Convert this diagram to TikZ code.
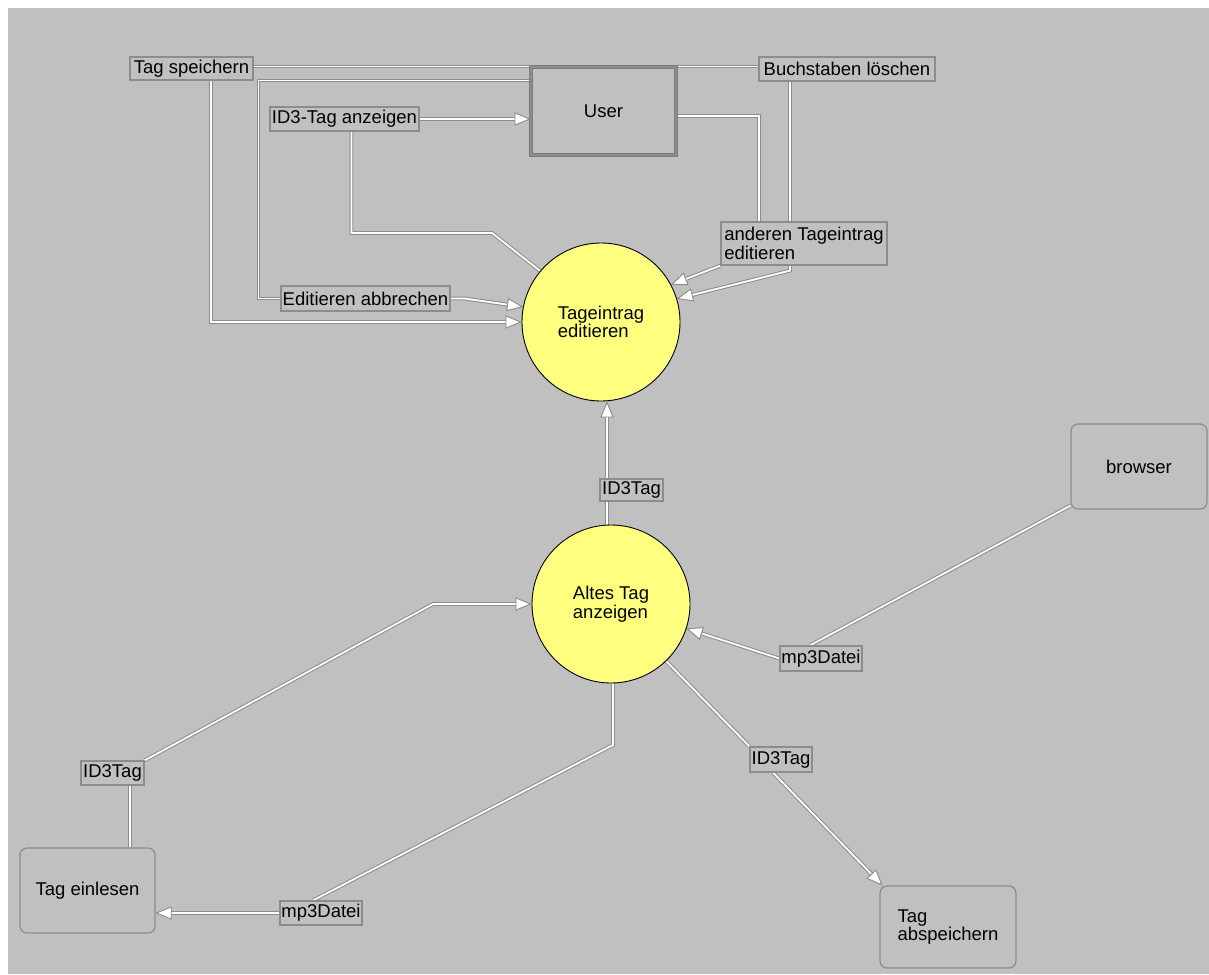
\documentclass[tikz,border=0pt]{standalone}
\usepackage{fontspec}
\setmainfont{Liberation Sans}
\usetikzlibrary{arrows.meta}
\pgfdeclarelayer{back}
\pgfdeclarelayer{conns}
\pgfsetlayers{back,conns,main}
\definecolor{bgray}{HTML}{C0C0C0}
\definecolor{lgray}{HTML}{8C8C8C}
\definecolor{dgray}{HTML}{7C7C7C}
\definecolor{circy}{HTML}{FFFF80}
\begin{document}
\begin{tikzpicture}[x=1pt,y=-1pt,
  every node/.style={font=\fontsize{18.5}{18.5}\selectfont, inner sep=0pt, text=black},
  lbl/.style={draw=lgray, line width=1.2pt, fill=bgray},
  proc/.style={circle, draw=black, line width=0.9pt, fill=circy, minimum size=158pt, align=left},
  ext/.style={draw=lgray, line width=1.2pt, rounded corners=7pt, fill=bgray},
  conn/.style={draw=white, line width=1.8pt, preaction={draw=lgray, line width=3.8pt}},
  arr/.style={-{Triangle[length=16pt,width=13pt,fill=white,color=lgray,line width=0.8pt]}}
]
\useasboundingbox (0,0) rectangle (1209,974);
\begin{pgfonlayer}{back}
\fill[white] (0,0) rectangle (1209,974);
\fill[bgray] (8,8) rectangle (1209,974);
\end{pgfonlayer}

% nodes
\node[draw=dgray, line width=1pt, double=lgray, double distance=1.6pt, fill=bgray,
      minimum width=145pt, minimum height=88pt] (User) at (603.5,111) {User};
\node[lbl, minimum width=123pt, minimum height=23pt] (TS) at (191.5,68.5) {Tag speichern};
\node[lbl, minimum width=149pt, minimum height=24pt] (IA) at (344.5,119) {ID3-Tag anzeigen};
\node[lbl, minimum width=169pt, minimum height=25pt] (EA) at (365.5,298.5) {Editieren abbrechen};
\node[lbl, minimum width=176pt, minimum height=24pt] (BL) at (847,69) {Buchstaben löschen};
\node[lbl, align=left, minimum width=166pt, minimum height=43pt] (AT) at (804,243.5) {anderen Tageintrag\\editieren\hspace*{85pt}};
\node[proc] (TE) at (601,322) {Tageintrag\\editieren};
\node[lbl, minimum width=63pt, minimum height=22pt] (ID3m) at (631.5,490) {ID3Tag};
\node[proc] (AL) at (611,604) {Altes Tag\\anzeigen};
\node[lbl, minimum width=82pt, minimum height=25pt] (mp3r) at (821,658.5) {mp3Datei};
\node[ext, minimum width=136pt, minimum height=85pt] (browser) at (1139,466.5) {browser};
\node[ext, minimum width=135pt, minimum height=85pt] (TEin) at (87.5,890.5) {Tag einlesen};
\node[lbl, minimum width=63pt, minimum height=24pt] (ID3l) at (112.5,773) {ID3Tag};
\node[lbl, minimum width=82pt, minimum height=24pt] (mp3b) at (321,913) {mp3Datei};
\node[lbl, minimum width=62pt, minimum height=25pt] (ID3r) at (781,759.5) {ID3Tag};
\node[ext, minimum width=136pt, minimum height=82pt, align=left] (TA) at (948,927) {Tag\\abspeichern};

% connectors
\begin{pgfonlayer}{conns}
\draw[conn] (User.north west) -- (User.north west -| TS.east);
\draw[conn,arr] ([xshift=19.5pt]TS.south) |- (TE.west);
\draw[conn] ([yshift=-14pt]User.north west) -| ([xshift=-22pt]EA.west) -- (EA.west);
\draw[conn,arr] (EA.east) -- ++(14,0) -- (TE.169);
\draw[conn,arr] (IA.east) -- (IA.east -| User.west);
\draw[conn] ([xshift=7pt]IA.south) |- (492,233) -- (TE.140);
\draw[conn] (User.north east) -- (User.north east -| BL.west);
\draw[conn,arr] ([xshift=-57pt]BL.south) -- ++(0,189) -- (TE.17);
\draw[conn] ([yshift=-5pt]User.east) -| ([xshift=-45pt]AT.north);
\draw[conn,arr] (AT.south west) -- (TE.28);
\draw[conn,arr] ([xshift=-4pt]AL.north) -- ([xshift=-4pt]AL.north |- TE.south);
\draw[conn] ([xshift=42.5pt]TEin.north) -- ([xshift=17.5pt]ID3l.south);
\draw[conn,arr] (ID3l.north east) -- (433,604) -- (AL.west);
\draw[conn] ([xshift=2pt]AL.south) -- (613,745) -- ([xshift=-8pt]mp3b.north);
\draw[conn,arr] (mp3b.west) -- (mp3b.west -| TEin.east);
\draw[conn] ([yshift=4pt]browser.south west) -- ([xshift=-11pt]mp3r.north);
\draw[conn,arr] (mp3r.west) -- (AL.-18);
\draw[conn] (AL.-46) -- (ID3r.north west);
\draw[conn,arr] ([xshift=-8pt]ID3r.south) -- ([xshift=3pt]TA.north west);
\end{pgfonlayer}
\end{tikzpicture}
\end{document}
